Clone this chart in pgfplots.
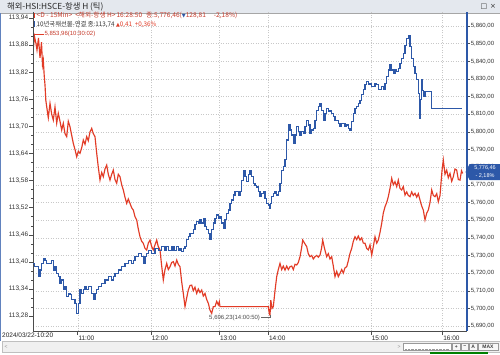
\documentclass[border=0pt]{standalone}
\usepackage{fontspec}
\setmainfont{Liberation Sans}
\newfontfamily\kr{Noto Sans CJK KR}
\newfontfamily\dv{DejaVu Sans}
\usepackage{pgfplots}
\pgfplotsset{compat=1.18}
\usepackage{pgfplotstable}
\definecolor{bl}{HTML}{2D58A8}
\definecolor{rd}{HTML}{E23B26}
\definecolor{rdtxt}{HTML}{C63A2A}
\definecolor{gridc}{HTML}{C8C8C8}
\definecolor{titlebg}{HTML}{E4E8EE}

\pgfplotstableread{
x y
31.7 113.397
33 113.397
34.5 113.389
36 113.389
38.3 113.367
40 113.382
41.7 113.397
43.3 113.408
45 113.404
46.7 113.397
50 113.397
51.5 113.404
53.3 113.382
55 113.389
56.7 113.375
58.3 113.367
60 113.353
61.7 113.360
63.3 113.338
65 113.345
66.7 113.323
68.3 113.330
70 113.327
71.7 113.316
73.3 113.316
75 113.308
76.7 113.286
78.3 113.308
80 113.338
81.7 113.330
83.3 113.338
85 113.345
86.7 113.338
88.3 113.345
90 113.345
91.7 113.330
93.3 113.316
95 113.330
96.7 113.338
98.3 113.345
100 113.345
101.7 113.353
103.3 113.353
105 113.360
106.7 113.360
108.3 113.367
110 113.367
111.7 113.360
113.3 113.367
115 113.375
116.7 113.375
118.3 113.382
120 113.382
121.7 113.389
123.3 113.389
125 113.397
126.7 113.397
128.3 113.404
130 113.404
131.7 113.397
133.3 113.404
135 113.412
136.7 113.412
138.3 113.419
140 113.419
141.7 113.412
143.3 113.397
145 113.412
146.7 113.419
148.3 113.426
150 113.426
151.7 113.419
153.3 113.419
155 113.430
156.7 113.430
158.3 113.426
160 113.426
161.7 113.434
163.3 113.434
165 113.426
166.7 113.434
168.3 113.426
170 113.426
172 113.434
174 113.426
176.7 113.434
178.3 113.426
180 113.430
181.7 113.423
183.3 113.430
185 113.434
186.7 113.449
188.3 113.456
190 113.463
191.7 113.463
193.3 113.471
195 113.482
196.7 113.489
198.3 113.486
200 113.493
201.7 113.486
203.3 113.497
205 113.478
206.7 113.471
208.3 113.463
210 113.449
211.7 113.471
213.3 113.486
215 113.497
216.7 113.504
218.3 113.497
220 113.500
221.7 113.486
223.3 113.474
225 113.493
226.7 113.508
228.3 113.515
230 113.530
231.7 113.537
233.3 113.548
235 113.555
236.7 113.555
238.3 113.548
240 113.555
241.7 113.581
243.3 113.603
245 113.589
246.7 113.578
248.3 113.593
250 113.603
251.7 113.589
253.3 113.574
255 113.570
256.7 113.566
258.3 113.555
260 113.544
261.7 113.552
263.3 113.555
265 113.541
266.7 113.530
268.3 113.526
269.3 113.519
270.5 113.530
271.7 113.544
273.3 113.552
275 113.555
276.7 113.548
278.3 113.555
280 113.574
281.7 113.603
283.3 113.611
285 113.626
286.7 113.670
288.3 113.703
290 113.692
291.7 113.681
293.3 113.663
295 113.681
296.7 113.699
298.3 113.688
300 113.681
301.7 113.688
303.3 113.685
305 113.699
306.7 113.714
308.3 113.703
310 113.685
311.7 113.692
313.3 113.696
315 113.714
316.7 113.736
318.3 113.744
320 113.751
321.7 113.736
323.3 113.714
325 113.729
326.7 113.740
328.3 113.733
330 113.736
331.7 113.729
333.3 113.722
335 113.714
336.7 113.714
338.3 113.707
340 113.699
341.7 113.707
343.3 113.707
345 113.699
346.7 113.703
348.3 113.696
350 113.692
351.7 113.711
353.3 113.729
355 113.740
356.7 113.744
358.3 113.751
360 113.758
361.7 113.770
363.3 113.781
365 113.792
366.7 113.799
368.3 113.792
370 113.795
371.7 113.788
373.3 113.788
375 113.795
376.7 113.792
378.3 113.781
380 113.781
381.7 113.788
383.3 113.781
385 113.795
386.7 113.810
388.3 113.825
390 113.836
391.7 113.825
393.3 113.818
395 113.825
396.7 113.821
398.3 113.829
400 113.840
401.7 113.851
403.3 113.862
405 113.880
406.7 113.895
408.3 113.902
410 113.876
411.7 113.851
413.3 113.832
415 113.818
416.7 113.803
418.3 113.773
419.2 113.740
420 113.718
420.8 113.760
421.7 113.803
422.5 113.780
423.3 113.766
425 113.777
431.7 113.777
431.8 113.740
461.7 113.740
}\bluedata

\pgfplotstableread{
x y
31.7 5848.3
33.5 5848.3
34.5 5853.96
36 5850
37 5846.4
38.5 5853.2
40 5841.9
41.5 5850.9
42.5 5838
43.3 5840.7
44.2 5832
45 5826.6
45.8 5818
46.7 5814.3
48.3 5808
50 5816.2
51.7 5810
53.3 5806.7
55 5814.1
56.7 5805
58.3 5810.5
60 5806
61.7 5801.1
63.3 5804.9
65 5799
66.7 5797.3
68.3 5806
70 5802.9
71.7 5798
73.3 5793.5
75 5790
76.7 5785.9
78.3 5789
80 5787.9
81.7 5791
83.3 5795.4
85 5793
86.7 5797.3
88.3 5795
90 5800
91.7 5802.0
93.3 5799
95 5797.3
96.7 5787.9
98.3 5780
100 5772.7
101.7 5777
103.3 5774.6
105 5779
106.7 5781.2
108.3 5776
110 5772.7
111.7 5776
113.3 5778.4
115 5773
116.7 5770.9
118.3 5776
120 5774.6
121.7 5770
123.3 5767.1
125 5763
126.7 5759.5
128.3 5762
130 5759.5
131.7 5757
133.3 5755.7
135 5752
136.7 5750.1
138.3 5745
140 5740.6
141.7 5738
143.3 5736.9
145 5734
146.7 5733.1
148.3 5737
150 5738.7
151.7 5735
153.3 5733.1
155 5736
156.7 5738.7
158.3 5735
160 5733.1
161.7 5724
163.3 5716.1
165 5722
166.7 5725.5
168.3 5722
170 5723.6
171.7 5726
173.3 5726.5
175 5724
176.7 5727.4
178.3 5725
180 5723.6
181.7 5715
183.3 5708.5
185 5701.0
186.7 5706
188.3 5710.4
190 5713
191.7 5713.2
193.3 5710
195 5712
196.7 5708.5
198.3 5711
200 5709
201.7 5710.4
203.3 5707
205 5708.5
206.7 5705
208.3 5702.9
210 5699
211.7 5697.2
213.3 5701
215 5701.0
216.7 5704
218.3 5702
219.3 5703.8
220 5701.0
268.3 5701.0
269.3 5697
270 5696.23
270.8 5704.7
272 5700
273.3 5701
275 5710
276.7 5718.0
278.3 5722
280 5725.5
281.7 5722
283.3 5724
285 5721.7
286.7 5724
288.3 5722
290 5723.6
291.7 5724
293.3 5722
295 5725
296.7 5724.6
298.3 5726
300 5729.3
301.5 5734
302.7 5738.7
304.5 5737
306.7 5735.0
308.3 5731
310 5729.3
311.7 5730
313.3 5728
315 5729.3
316.7 5730
318.3 5729
320 5730.2
321.5 5734
322.7 5738.7
324.5 5734
326.7 5729.3
328.3 5731
330 5728
331.7 5729.3
333.3 5724
335 5718.0
336.7 5721
338.3 5718
340 5719.9
341.7 5722
343.3 5720
345 5723
346.7 5723.6
348.3 5727
350 5731.2
351.7 5734
353.3 5738
355 5740.6
356.7 5739
358.3 5741
360 5738.7
361.7 5740
363.3 5737
365 5736.9
366.7 5734
368.3 5733.1
370 5736
371.7 5730.2
373.3 5735
375 5740.6
376.7 5737
378.3 5738.7
380 5743
381.7 5748.2
383.3 5754
385 5757.6
386.7 5760
388.3 5763.3
390 5768
391.7 5773.7
393.3 5770
395 5771.8
396.7 5769
398.3 5772.7
400 5768
401.7 5767.1
403.3 5769
405 5764.2
406.7 5766
408.3 5764
410 5763.3
411.7 5766
413.3 5764
415 5765.2
416.7 5763
418.3 5765
420 5761.4
421.7 5758
423.3 5755.7
425 5750.1
426.7 5754
428.3 5755.7
430 5760
431.7 5767.1
433.3 5764
435 5763.3
436.7 5765
438.3 5760.4
440 5764
440.7 5768.9
442 5778
443.3 5784.1
445 5776
446.7 5778.4
448.3 5774
450 5776.5
451.7 5772
453.3 5774.6
455 5779
456.7 5778.4
458.3 5773
460 5772.7
461.5 5778
462.7 5776.46
}\reddata

\begin{document}
\begin{tikzpicture}[x=1pt,y=1pt]
\useasboundingbox (0,0) rectangle (500,354);
\fill[white] (0,0) rectangle (500,354);
% title bar
\fill[titlebg] (0,341) rectangle (500,354);
\draw[black!35] (0,341.2) -- (500,341.2);
\node[anchor=west, inner sep=0pt, font=\kr\fontsize{8.3}{9}\selectfont, text=black!85] at (7,347.6) {해외-HSI:HSCE-항생 H (틱)};
\node[anchor=center, inner sep=0pt, font=\dv\fontsize{7}{7}\selectfont, text=black!80] at (484,347.6) {□};
\node[anchor=center, inner sep=0pt, font=\dv\fontsize{7}{7}\selectfont, text=black!80] at (493,347.6) {×};
% left window border
\fill[bl!75] (0,13) rectangle (1.4,341);

% red series, right axis
\begin{axis}[
  at={(33pt,23pt)}, anchor=south west, scale only axis,
  width=434pt, height=319pt,
  xmin=33, xmax=467, ymin=5687.2, ymax=5867.93,
  axis x line*=bottom, axis y line*=right,
  x axis line style={draw=none},
  y axis line style={draw=bl, line width=1.2pt},
  xtick={77.7,151,219.3,268.3,371,442.5}, xticklabels={},
  major x tick style={draw=none},
  xmajorgrids, ymajorgrids,
  grid style={gridc, line width=0.4pt, dash pattern=on 1pt off 1.5pt},
  ytick={5690,5700,5710,5720,5730,5740,5750,5760,5770,5780,5790,5800,5810,5820,5830,5840,5850,5860},
  yticklabels={{5,690,00},{5,700,00},{5,710,00},{5,720,00},{5,730,00},{5,740,00},{5,750,00},{5,760,00},{5,770,00},{5,780,00},{5,790,00},{5,800,00},{5,810,00},{5,820,00},{5,830,00},{5,840,00},{5,850,00},{5,860,00}},
  yticklabel style={font=\fontsize{6}{7}\selectfont, text=black!80, anchor=west, inner xsep=0.6pt},
  tick align=outside, major tick length=3pt,
  major y tick style={black!70, line width=0.5pt},
  clip=true,
]
\addplot[rd, line width=1.15pt] table[x=x,y=y] {\reddata};
\coordinate (pmax) at (axis cs:34.5,5853.96);
\coordinate (pmin) at (axis cs:270,5696.23);
\end{axis}
\draw[rd, line width=0.5pt] (pmax) -- ++(0pt,2.5pt) -- ++(9pt,0pt) node[anchor=west, inner sep=0.8pt, text=rdtxt, font=\fontsize{6}{7}\selectfont] {5,853,96(10:30:02)};
\draw[black!60, line width=0.5pt] (pmin) -- ++(0pt,-2.5pt) -- ++(-9pt,0pt) node[anchor=east, inner sep=0.8pt, text=black!70, font=\fontsize{6}{7}\selectfont] {5,696,23(14:00:50)};

% blue series, left axis
\begin{axis}[
  at={(33pt,23pt)}, anchor=south west, scale only axis,
  width=434pt, height=319pt,
  xmin=33, xmax=467, ymin=113.2470, ymax=113.9533,
  axis x line*=bottom, axis y line*=left,
  axis line style={draw=black!70, line width=0.6pt},
  xtick={77.7,151,219.3,268.3,371,442.5},
  xticklabels={11:00,12:00,13:00,14:00,15:00,16:00},
  xticklabel style={font=\fontsize{6.5}{7}\selectfont, text=black!85, anchor=north west, inner xsep=0.6pt, inner ysep=0.5pt},
  ytick={113.28,113.34,113.40,113.46,113.52,113.58,113.64,113.70,113.76,113.82,113.88,113.94},
  yticklabels={{113,28},{113,34},{113,40},{113,46},{113,52},{113,58},{113,64},{113,70},{113,76},{113,82},{113,88},{113,94}},
  yticklabel style={font=\fontsize{6.5}{7}\selectfont, text=black!80, inner xsep=0.6pt},
  minor y tick num=2,
  tick align=outside, major tick length=4pt, minor tick length=2pt,
  tick style={black!70, line width=0.5pt},
  clip=true,
]
\addplot[bl, line width=1.15pt, const plot] table[x=x,y=y] {\bluedata};
\end{axis}

% first x label
\node[anchor=north west, inner sep=0pt, font=\fontsize{6.5}{7}\selectfont, text=black!85] at (2,21.5) {2024/03/22-10:20};

% legend lines
\fill[rd] (34,335.5) rectangle (35.3,341);
\node[anchor=west, inner sep=0pt, text=rdtxt, font=\kr\fontsize{6.6}{7}\selectfont] at (36.5,338.2) {<D - 15Min>\hspace{3pt}<해외-항생 H>\hspace{1pt}16:28:50\hspace{4pt}종:5,776,46({\dv\color{bl}\fontsize{5}{6}\selectfont ▼}128,81\hspace{8pt}-2,18\%)};
\fill[bl] (34,327) rectangle (35.3,332.5);
\node[anchor=west, inner sep=0pt, text=black!80, font=\kr\fontsize{6.3}{7}\selectfont] at (36.5,329.7) {10년국채선물-연결 종:113,74 {\dv\color{rd}\fontsize{5}{6}\selectfont ▲}{\color{rd}0,41 \ +0,36\%}};

% value tag at right
\fill[bl] (465.5,182) -- (469.5,190) -- (500,190) -- (500,174) -- (469.5,174) -- cycle;
\node[inner sep=0pt, text=white, font=\fontsize{5.5}{6}\selectfont] at (485,186) {5,776,46};
\node[inner sep=0pt, text=white, font=\fontsize{5.5}{6}\selectfont] at (485,178) {- 2,18\%};

% bottom scroll bar
\fill[black!6] (2,2) rectangle (500,12.5);
\draw[black!25] (2,2) rectangle (500,12.5);
\node[inner sep=0pt, text=black!45, font=\fontsize{5}{6}\selectfont] at (6,7.2) {<};
\node[inner sep=0pt, text=black!45, font=\fontsize{5}{6}\selectfont] at (399,7.2) {>};
\draw[black!40, fill=white] (403,4) rectangle (451,10.5);
\draw[black!40, dash pattern=on 0.6pt off 0.8pt] (405,5) -- (449,5);
\foreach \xa/\xb/\t in {452.5/460/+,461/468.5/−,469.5/477/A,478/498/MAX}{
  \draw[black!40, fill=black!3] (\xa,3.5) rectangle (\xb,11);
  \node[inner sep=0pt, font=\fontsize{5}{6}\selectfont\bfseries, text=black!75] at ({(\xa+\xb)/2},7.2) {\t};
}
\fill[green!50!black] (430,0) rectangle (488,1.6);
\end{tikzpicture}
\end{document}
